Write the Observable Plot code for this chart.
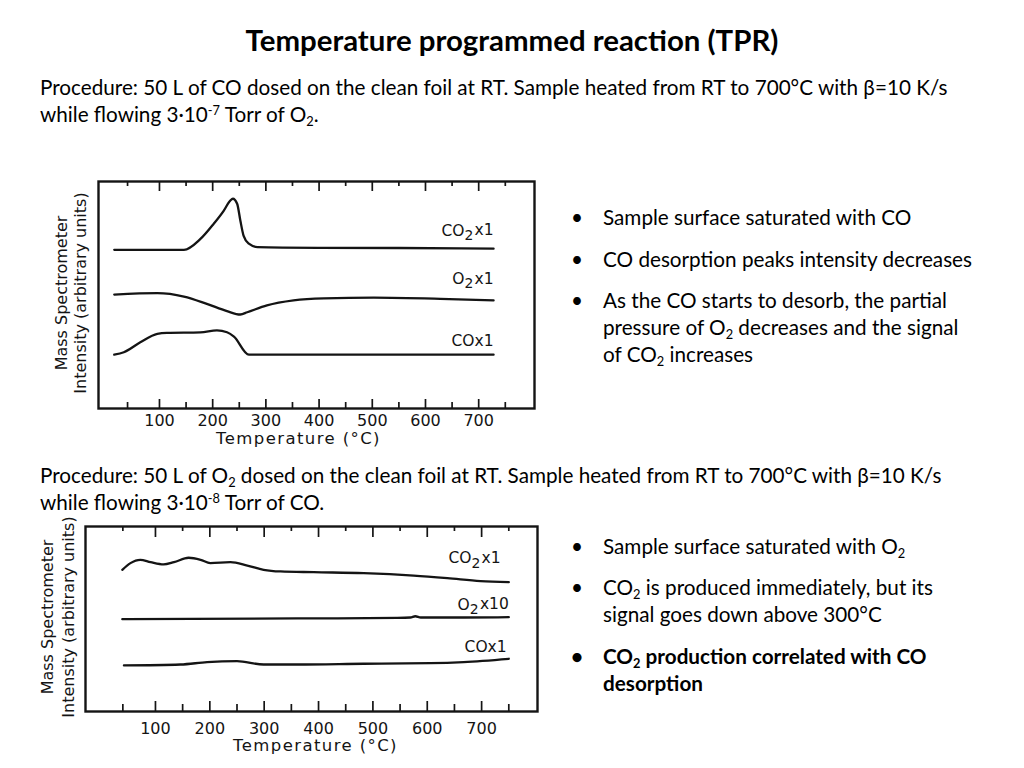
<!DOCTYPE html>
<html><head><meta charset="utf-8">
<script src="https://cdn.jsdelivr.net/npm/d3@7"></script>
<script src="https://cdn.jsdelivr.net/npm/@observablehq/plot@0.6"></script>
<style>
body{margin:0;background:#fff;}
#slide{position:relative;width:1024px;height:768px;overflow:hidden;font-family:Lato,"Open Sans",sans-serif;color:#000;}
.title{position:absolute;left:0;width:1024px;top:20px;text-align:center;font-weight:bold;font-size:29.4px;line-height:40px;}
.t{position:absolute;white-space:nowrap;font-size:20.7px;line-height:27px;}
.b{position:absolute;white-space:nowrap;font-size:20.7px;line-height:27px;left:603px;}
.b::before{content:"•";position:absolute;left:-32px;}
sup{font-size:0.62em;line-height:0;vertical-align:0.55em;}
sub{font-size:0.62em;line-height:0;vertical-align:-0.3em;}
.chart{position:absolute;}
.chart svg{overflow:visible;}
</style></head>
<body><div id="slide">
<div class="title">Temperature programmed reaction (TPR)</div>
<div class="t" style="left:40px;top:74px;">Procedure: 50 L of CO dosed on the clean foil at RT. Sample heated from RT to 700°C with β=10 K/s<br>while flowing 3·10<sup>-7</sup> Torr of O<sub>2</sub>.</div>
<div class="b" style="top:204px;">Sample surface saturated with CO</div>
<div class="b" style="top:246px;">CO desorption peaks intensity decreases</div>
<div class="b" style="top:287px;">As the CO starts to desorb, the partial<br>pressure of O<sub>2</sub> decreases and the signal<br>of CO<sub>2</sub> increases</div>
<div class="t" style="left:40px;top:462px;">Procedure: 50 L of O<sub>2</sub> dosed on the clean foil at RT. Sample heated from RT to 700°C with β=10 K/s<br>while flowing 3·10<sup>-8</sup> Torr of CO.</div>
<div class="b" style="top:533px;">Sample surface saturated with O<sub>2</sub></div>
<div class="b" style="top:574px;">CO<sub>2</sub> is produced immediately, but its<br>signal goes down above 300°C</div>
<div class="b" style="top:643px;font-weight:bold;">CO<sub>2</sub> production correlated with CO<br>desorption</div>
<div class="chart" id="c1" style="left:40px;top:170px;"></div>
<div class="chart" id="c2" style="left:30px;top:515px;"></div>
</div>
<script>
// ---- data (temperature °C, intensity arb. units) ----
// Experiment 1: CO pre-dosed, heated in O2
const e1_CO2_T = [15, 100, 146, 177, 202, 221, 233, 238, 246, 252, 258, 268, 284, 400, 550, 728];
const e1_CO2_I = [69.9, 69.9, 69.9, 74.7, 81.4, 87.2, 91.6, 92.4, 90.2, 82.8, 76.2, 72.6, 71.1, 70.8, 70.7, 70.4];
const e1_O2_T = [15, 96, 146, 189, 227, 252, 265, 302, 352, 409, 503, 628, 728];
const e1_O2_I = [50.2, 50.8, 49.3, 46.1, 42.9, 41.4, 42.4, 45.4, 47.6, 48.5, 48.8, 48.3, 47.6];
const e1_CO_T = [15, 33, 64, 96, 114, 177, 208, 227, 240, 268, 400, 728];
const e1_CO_I = [23.7, 24.8, 29.2, 32.9, 33.3, 33.5, 34.4, 33.6, 31.7, 23.7, 23.7, 23.7];
// Experiment 2: O2 pre-dosed, heated in CO
const e2_CO2_T = [39, 54, 72, 91, 115, 134, 161, 183, 201, 238, 269, 299, 330, 391, 483, 575, 637, 698, 750];
const e2_CO2_I = [76.6, 80.2, 82.0, 80.7, 79.5, 80.7, 83.1, 82.0, 80.2, 80.7, 78.9, 76.6, 75.7, 75.3, 74.8, 73.5, 72.1, 70.5, 69.9];
const e2_O2_T = [39, 361, 545, 569, 578, 588, 667, 750];
const e2_O2_I = [49.9, 50.3, 50.6, 50.8, 51.5, 50.8, 50.8, 51.0];
const e2_CO_T = [42, 146, 195, 250, 299, 361, 483, 606, 667, 750];
const e2_CO_I = [24.9, 25.4, 26.7, 27.2, 25.4, 25.4, 25.8, 26.1, 26.7, 28.5];
// labels & ticks
const e1_labels = ["CO₂x1", "O₂x1", "COx1"];
const e2_labels = ["CO₂x1", "O₂x10", "COx1"];
const tickLabels = [100, 200, 300, 400, 500, 600, 700];
const majorTicks = [100, 200, 300, 400, 500, 600, 700];
const minorTicks = [40, 150, 250, 350, 450, 550, 650, 750];
const xTitle = "Temperature (°C)";
const yTitle = "Mass Spectrometer\nIntensity (arbitrary units)";

const rows = (name, T, I) => T.map((t, i) => ({name, t, v: I[i]}));

function chart(o) {
  const ink = "#141414";
  const fh = o.height - o.mt - o.mb;
  const u = px => px * 100 / fh;
  const data = o.series.flatMap(s => rows(s.name, s.T, s.I));
  const svg = Plot.plot({
    width: o.width, height: o.height,
    marginLeft: o.ml, marginRight: o.mr, marginTop: o.mt, marginBottom: o.mb,
    x: {domain: o.xd, axis: null},
    y: {domain: [0, 100], axis: null},
    style: {fontFamily: "'DejaVu Sans', sans-serif", color: ink, background: "transparent"},
    marks: [
      Plot.frame({stroke: ink, strokeWidth: 2.4}),
      Plot.ruleX(majorTicks, {x: d => d, y1: 100, y2: 100 - u(o.major[0]), stroke: ink, strokeWidth: 1.7}),
      Plot.ruleX(minorTicks, {x: d => d, y1: 100, y2: 100 - u(o.minor[0]), stroke: ink, strokeWidth: 1.7}),
      Plot.ruleX(majorTicks, {x: d => d, y1: 0, y2: u(o.major[1]), stroke: ink, strokeWidth: 1.7}),
      Plot.ruleX(minorTicks, {x: d => d, y1: 0, y2: u(o.minor[1]), stroke: ink, strokeWidth: 1.7}),
      Plot.line(data, {x: "t", y: "v", z: "name", curve: "monotone-x", stroke: ink, strokeWidth: 2.3}),
      Plot.text(o.labels.map((l, i) => ({l, ...o.labelPos[i]})), {x: "x", y: "y", text: "l", textAnchor: "end", fontSize: 15.5, fill: ink}),
      Plot.text(tickLabels, {x: d => d, frameAnchor: "bottom", dy: o.tickDy, lineAnchor: "middle", fontSize: 16, fill: ink}),
      Plot.text([xTitle], {frameAnchor: "bottom", dx: o.xTitleDx, dy: o.xTitleDy, lineAnchor: "middle", textAnchor: "middle", fontSize: 16.5, fill: ink}),
      Plot.text([yTitle], {frameAnchor: "left", dx: o.yTitleDx, dy: o.yTitleDy, rotate: -90, textAnchor: "middle", lineAnchor: "middle", lineHeight: o.yLH, fontSize: 16, fill: ink})
    ]
  });
  // typographic touches: real subscript 2 in series labels, spaced axis title
  d3.select(svg).selectAll("text").each(function() {
    const s = this.textContent;
    if (s === xTitle) d3.select(this).attr("letter-spacing", "1.4px");
    if (s.includes("₂") && this.children.length === 0) {
      const [a, b] = s.split("₂");
      const el = d3.select(this);
      el.text(null);
      el.append("tspan").text(a);
      el.append("tspan").attr("dy", "0.3em").attr("font-size", "0.9em").text("2");
      el.append("tspan").attr("dy", "-0.3em").attr("dx", "0.08em").text(b);
    }
  });
  return svg;
}

const c1 = chart({
  width: 505, height: 280, ml: 58, mr: 11, mt: 11, mb: 42,
  xd: [-14.6, 804.9],
  series: [
    {name: "CO2", T: e1_CO2_T, I: e1_CO2_I},
    {name: "O2", T: e1_O2_T, I: e1_O2_I},
    {name: "CO", T: e1_CO_T, I: e1_CO_I}
  ],
  labels: e1_labels,
  labelPos: [{x: 728, y: 78.2}, {x: 728, y: 56.9}, {x: 728, y: 29.6}],
  major: [10, 9], minor: [5, 6],
  tickDy: 12, xTitleDx: -18, xTitleDy: 30, yTitleDx: -28.5, yTitleDy: -2, yLH: 1.2
});
document.getElementById("c1").appendChild(c1);

const c2 = chart({
  width: 515, height: 250, ml: 55, mr: 8, mt: 11, mb: 54,
  xd: [-28.7, 802.8],
  series: [
    {name: "CO2", T: e2_CO2_T, I: e2_CO2_I},
    {name: "O2", T: e2_O2_T, I: e2_O2_I},
    {name: "CO", T: e2_CO_T, I: e2_CO_I}
  ],
  labels: e2_labels,
  labelPos: [{x: 735, y: 82.7}, {x: 750, y: 57.8}, {x: 746, y: 35.1}],
  major: [11, 10], minor: [5, 7],
  tickDy: 17, xTitleDx: 4, xTitleDy: 34, yTitleDx: -28.5, yTitleDy: -2, yLH: 1.3
});
document.getElementById("c2").appendChild(c2);
</script>
</body></html>
